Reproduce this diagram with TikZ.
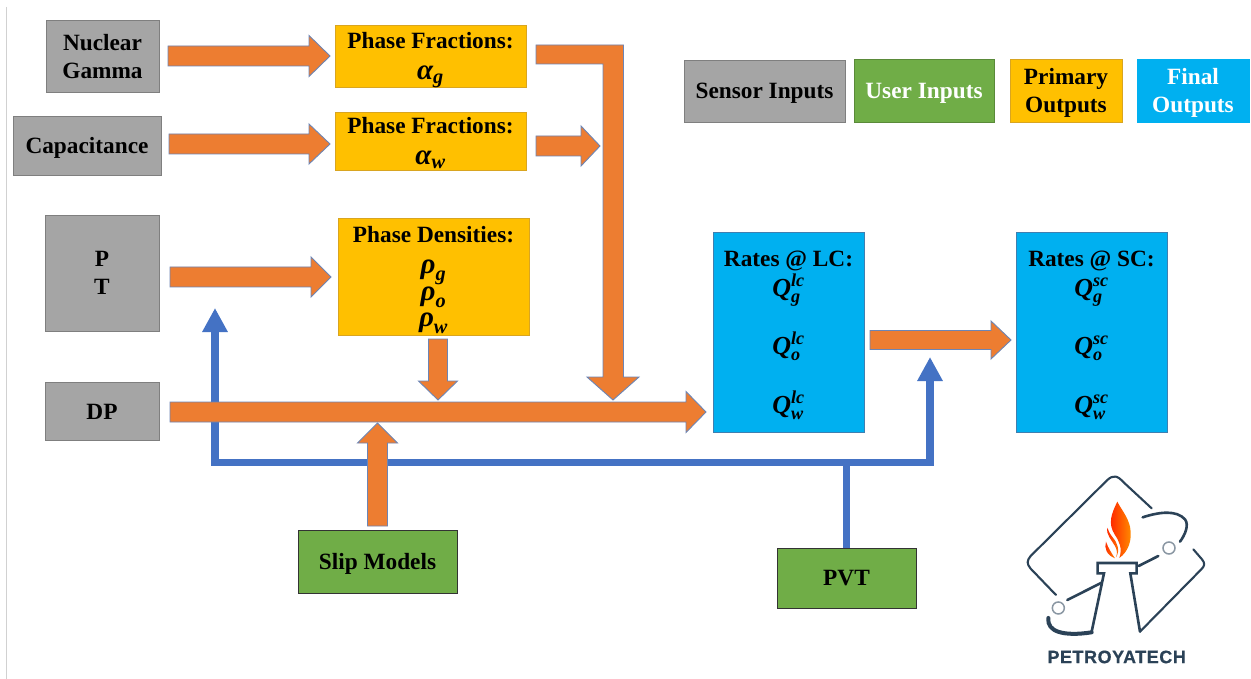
\documentclass[tikz,border=0pt]{standalone}
\usepackage{fix-cm}
\usepackage{amsmath}
\usepackage{fontspec}
\setmainfont{Liberation Serif}
\usetikzlibrary{calc,arrows.meta}
\definecolor{grayfill}{HTML}{A5A5A5}
\definecolor{grayedge}{HTML}{7F7F7F}
\definecolor{goldfill}{HTML}{FFC000}
\definecolor{goldedge}{HTML}{D9A520}
\definecolor{greenfill}{HTML}{70AD47}
\definecolor{cyanfill}{HTML}{00B0F0}
\definecolor{cyanedge}{HTML}{3F7FB0}
\definecolor{orangefill}{HTML}{ED7D31}
\definecolor{arrowedge}{HTML}{6C85B5}
\definecolor{blueline}{HTML}{4472C4}
\definecolor{logodark}{HTML}{2B4257}
\newcommand{\boxfont}{\fontsize{23.3}{28}\selectfont\bfseries}
\newcommand{\bi}[1]{\text{\bfseries\itshape #1}}
\newcommand{\gk}[2]{\smash{\fontsize{29}{28}\selectfont$\bi{#1}_{\bi{#2}}$}}
\newcommand{\qv}[2]{\smash{\fontsize{26}{28}\selectfont$\bi{Q}_{\bi{#1}}^{\bi{#2}}$}}
\newcommand{\blockarrow}[5]{%
  \coordinate (tmpS) at (#1);
  \coordinate (tmpE) at (#2);
  \coordinate (tmpB) at ($(tmpE)!#5!(tmpS)$);
  \draw[barrow] ($(tmpS)!#3!90:(tmpE)$) -- ($(tmpB)!#3!90:(tmpE)$) -- ($(tmpB)!#4!90:(tmpE)$)
    -- (tmpE) -- ($(tmpB)!#4!-90:(tmpE)$) -- ($(tmpB)!#3!-90:(tmpE)$) -- ($(tmpS)!#3!-90:(tmpE)$) -- cycle;
}
\tikzset{
  x=1pt,y=-1pt,
  base/.style={inner sep=0pt,outer sep=0pt,align=center,font=\boxfont,line width=0.9pt,text depth=0pt},
  graybox/.style={base,draw=grayedge,fill=grayfill},
  goldbox/.style={base,draw=goldedge,fill=goldfill},
  greenbox/.style={base,draw=black!80,fill=greenfill},
  legendgreen/.style={base,draw=greenfill!80!black,fill=greenfill,text=white},
  cyanbox/.style={base,draw=cyanedge,fill=cyanfill},
  legendcyan/.style={base,draw=cyanfill,fill=cyanfill,text=white},
  barrow/.style={draw=arrowedge,fill=orangefill,line width=0.9pt,line join=miter},
  bluearrow/.style={draw=blueline,line width=7.5pt,-{Triangle[length=24pt,width=24pt]}},
  logoline/.style={draw=logodark,line width=2.1pt,line cap=round,line join=round},
  logothick/.style={logoline,line width=2.6pt},
  logoring/.style={draw=logodark!55,line width=1.5pt,fill=white},
}
\begin{document}
\begin{tikzpicture}
\useasboundingbox (0,0) rectangle (1251,679);
\fill[white] (0,0) rectangle (1251,679);
\draw[black!18,line width=0.8pt] (6.5,7) -- (6.5,679);

% input boxes
\node[graybox,minimum width=113pt,minimum height=72pt] (nuc) at (102.5,56) {Nuclear\\Gamma};
\node[graybox,minimum width=148pt,minimum height=59pt] (cap) at (87,145.5) {Capacitance};
\node[graybox,minimum width=114pt,minimum height=116pt] (pt) at (102,273) {P\\T};
\node[graybox,minimum width=114pt,minimum height=58pt] (dp) at (102,411.5) {DP};

% primary outputs
\node[goldbox,minimum width=191pt,minimum height=62pt] (pfg) at (430.5,56) {Phase Fractions:\\[3pt]\gk{α}{g}};
\node[goldbox,minimum width=191pt,minimum height=58pt] (pfw) at (430.5,141) {Phase Fractions:\\[3pt]\gk{α}{w}};
\node[goldbox,minimum width=191pt,minimum height=117pt] (pd) at (433.5,276.5) {Phase Densities:\\[3pt]\gk{ρ}{g}\\[-1pt]\gk{ρ}{o}\\[-2pt]\gk{ρ}{w}};

% final outputs
\node[cyanbox,minimum width=151pt,minimum height=200pt] (lc) at (788.5,332) {Rates @ LC:\\[2pt]\qv{g}{lc}\\[30pt]\qv{o}{lc}\\[31pt]\qv{w}{lc}};
\node[cyanbox,minimum width=151pt,minimum height=200pt] (sc) at (1091.5,332) {Rates @ SC:\\[2pt]\qv{g}{sc}\\[30pt]\qv{o}{sc}\\[31pt]\qv{w}{sc}};

% user inputs
\node[greenbox,minimum width=159pt,minimum height=63pt] (slip) at (377.5,561.5) {Slip Models};
\node[greenbox,minimum width=139pt,minimum height=60pt] (pvt) at (846.5,578) {PVT};

% legend
\node[graybox,minimum width=161pt,minimum height=62pt] (lgs) at (764.5,91) {Sensor Inputs};
\node[legendgreen,minimum width=140pt,minimum height=63pt] (lgu) at (924,90.5) {User Inputs};
\node[goldbox,minimum width=112pt,minimum height=63pt] (lgp) at (1066,90.5) {Primary\\Outputs};
\node[legendcyan,minimum width=112pt,minimum height=63pt] (lgf) at (1193,90.5) {Final\\Outputs};

% blue PVT lines (beneath the orange arrows)
\coordinate (ptTip) at (215,308);
\coordinate (scTip) at (930,357);
\coordinate (bus) at (846.5,462.5);
\draw[bluearrow] (pvt.north) -- (bus) -- (ptTip |- bus) -- (ptTip);
\draw[bluearrow] (bus) -- (scTip |- bus) -- (scTip);

% orange block arrows
\blockarrow{$(nuc.east)+(9,0)$}{$(pfg.west)+(-5,0)$}{10pt}{20.5pt}{21pt}
\blockarrow{$(cap.east)+(8,-1.5)$}{$(pfw.west)+(-5,3)$}{10pt}{20pt}{21pt}
\blockarrow{$(pt.east)+(11,4)$}{$(pd.west)+(-7,0.5)$}{10pt}{20pt}{20pt}
\blockarrow{$(pfw.east)+(10,5)$}{$(pfw.east)+(74,5)$}{10pt}{20pt}{19pt}
\blockarrow{$(dp.east)+(11,0.5)$}{$(lc.west)+(-7,80)$}{10pt}{20.5pt}{20pt}
\blockarrow{$(lc.east)+(6,8)$}{$(sc.west)+(-5,8)$}{9.5pt}{19pt}{20pt}
\blockarrow{$(pd.south)+(4.5,4)$}{$(pd.south)+(4.5,65)$}{9.5pt}{19.5pt}{19pt}
\blockarrow{$(slip.north)+(0,-4)$}{$(slip.north)+(0,-107)$}{10pt}{20pt}{20pt}

% bent arrow from the gas fraction box to the main arrow
\coordinate (bentS) at ($(pfg.east)+(10,-1.5)$);
\coordinate (bentT) at (613,400);
\draw[barrow] ($(bentS)+(0,-9.5)$) -- ($(bentT |- bentS)+(10.5,-9.5)$) -- ($(bentT)+(10.5,-23)$)
  -- ($(bentT)+(26,-23)$) -- (bentT) -- ($(bentT)+(-26,-23)$) -- ($(bentT)+(-10,-23)$)
  -- ($(bentT |- bentS)+(-10,9.5)$) -- ($(bentS)+(0,9.5)$) -- cycle;

% logo
\begin{scope}[shift={(1000,460)},x=0.3333pt,y=-0.3333pt]
  % frame
  \draw[logoline] (455,145) -- (372,68) .. controls (352,46) and (340,44) .. (322,60)
     -- (92,288) .. controls (80,302) and (80,312) .. (92,326) -- (168,405);
  \draw[logothick] (428,172) .. controls (480,155) and (530,150) .. (555,178)
     .. controls (568,195) and (555,225) .. (540,245);
  \draw[logoline] (580,268) -- (606,298) .. controls (616,310) and (614,318) .. (604,328) -- (420,515);
  % flare stack
  \draw[logothick,line join=miter] (275,515) -- (312,340) -- (293,340) -- (293,309) -- (410,309)
     -- (410,340) -- (391,340) -- (420,515);
  % arms
  \draw[logothick] (416,318) -- (475,288);
  \draw[logothick] (202,420) -- (305,368);
  \draw[logoline,line width=4pt] (145,474) .. controls (140,515) and (190,530) .. (275,517);
  % rings
  \draw[logoring] (507,264) circle[radius=18];
  \draw[logoring] (175,444) circle[radius=18];
  % flame
  \shade[left color=red!80!orange,right color=orange!85!yellow]
    (352,125) .. controls (335,160) and (322,190) .. (345,225) .. controls (358,245) and (368,265) .. (358,294)
    .. controls (385,275) and (398,240) .. (390,200) .. controls (383,170) and (365,150) .. (352,125) -- cycle;
  \shade[left color=red!70!orange,right color=orange]
    (322,203) .. controls (318,225) and (335,240) .. (345,258) .. controls (352,270) and (352,282) .. (348,292)
    .. controls (362,270) and (350,245) .. (338,232) .. controls (330,222) and (325,213) .. (322,203) -- cycle;
  \shade[left color=red!70!orange,right color=orange]
    (318,245) .. controls (312,265) and (320,285) .. (345,295) .. controls (335,280) and (325,265) .. (318,245) -- cycle;
  \node[inner sep=0pt,font=\fontsize{18}{20}\selectfont,text=logodark] (brand) at (350,591) {\fontspec{Liberation Sans Bold}[LetterSpace=3,FakeBold=0.5]PETROYATECH};
\end{scope}
\end{tikzpicture}
\end{document}
